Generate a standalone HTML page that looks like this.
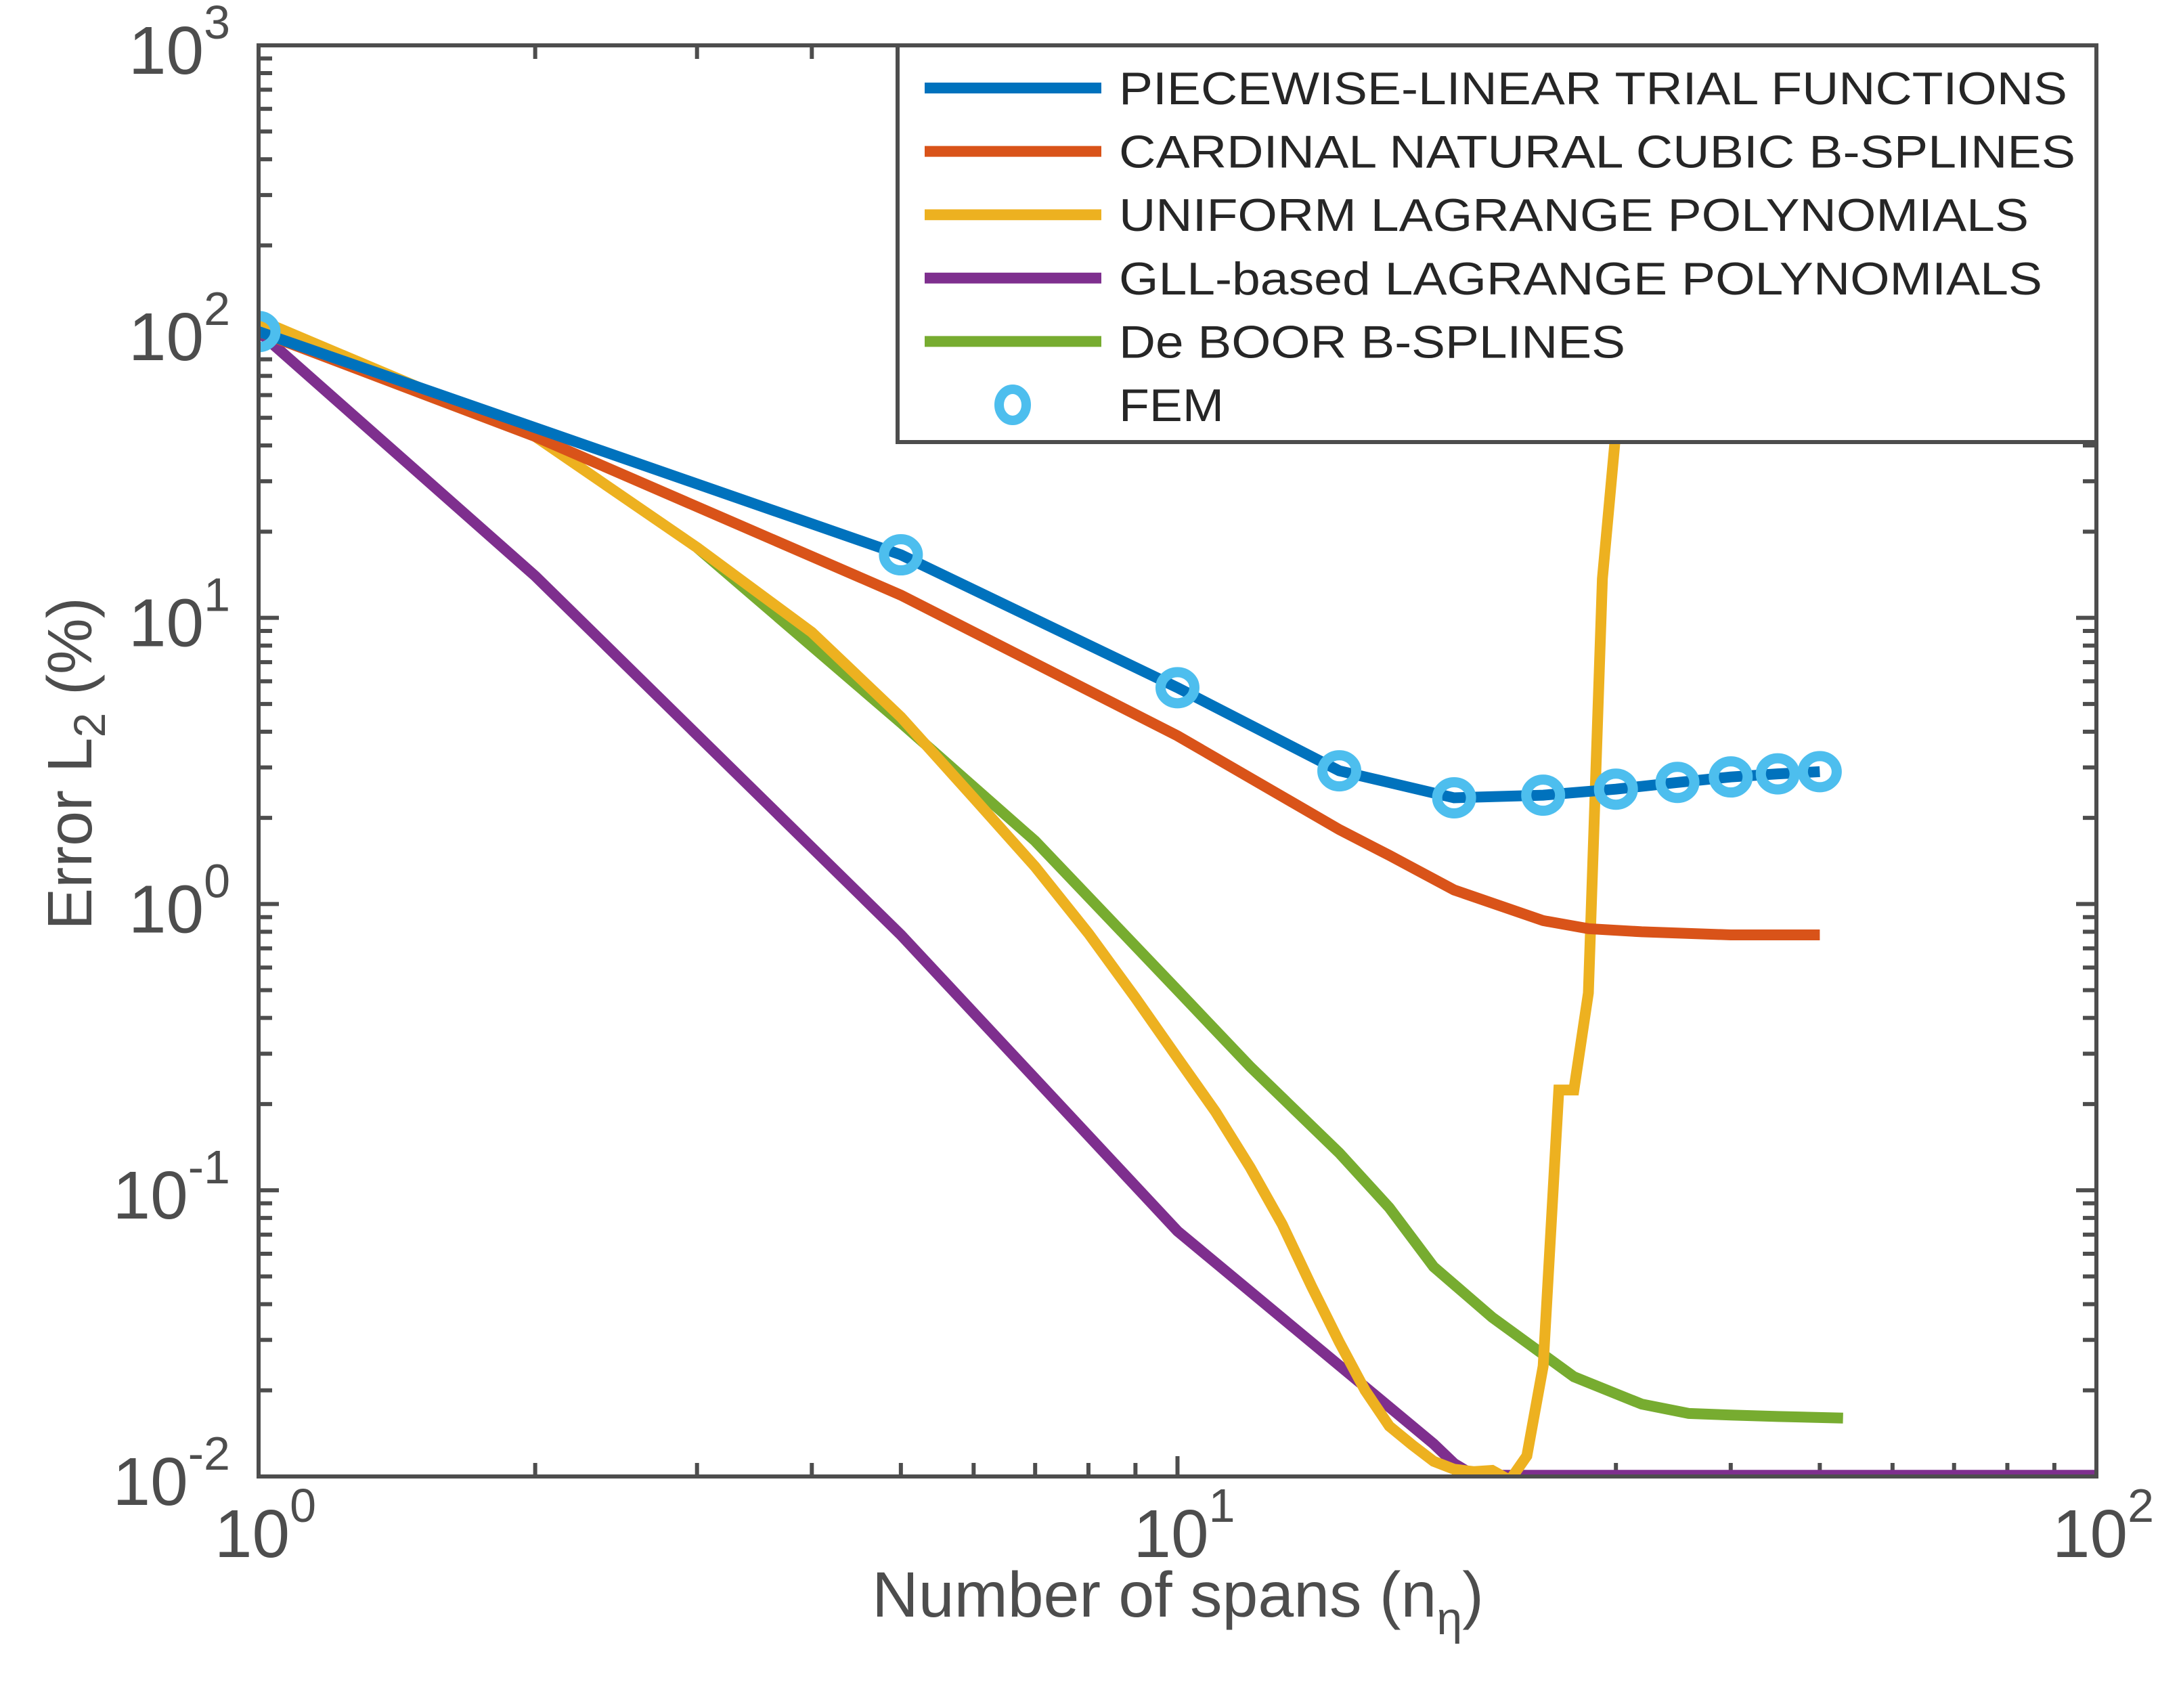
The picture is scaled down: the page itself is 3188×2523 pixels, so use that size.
<!DOCTYPE html>
<html><head><meta charset="utf-8"><style>
html,body{margin:0;padding:0;background:#fff}
svg{display:block;font-family:"Liberation Sans",Arial,sans-serif}
</style></head><body>
<svg id="chart" width="3188" height="2523" viewBox="0 0 3188 2523" xmlns="http://www.w3.org/2000/svg">
<rect width="3188" height="2523" fill="#fff"/>
<defs><clipPath id="plotclip"><rect x="382" y="67" width="2715" height="2114"/></clipPath></defs>
<g id="grid-ticks"></g>
<g id="series" clip-path="url(#plotclip)"></g>
<rect x="382" y="67" width="2715" height="2114" fill="none" stroke="#4d4d4d" stroke-width="6"/>
<g id="labels" fill="#4d4d4d"></g>
<text x="1740" y="2388" text-anchor="middle" font-size="95" fill="#4d4d4d">Number of spans (n<tspan font-size="68" dy="26">η</tspan><tspan dy="-26">)</tspan></text>
<text transform="translate(135,1128) rotate(-90)" text-anchor="middle" font-size="93" fill="#4d4d4d">Error L<tspan font-size="66" dy="20">2</tspan><tspan dy="-20"> (%)</tspan></text>
<g id="legend"></g>
</svg>
<script>
const NS='http://www.w3.org/2000/svg';
// data arrays
const nLinear=[1,5,10,15,20,25,30,35,40,45,50];
const vLinear=[100,16.6,5.7,2.92,2.35,2.4,2.52,2.66,2.78,2.85,2.9];
const nFem=[1,5,10,15,20,25,30,35,40,45,50];
const vFem=[100,16.6,5.7,2.92,2.35,2.4,2.52,2.66,2.78,2.85,2.9];
const nCardinal=[1,2,5,10,15,17,20,25,28,32,40,50];
const vCardinal=[100,43,12,3.87,1.82,1.48,1.12,0.875,0.82,0.80,0.78,0.78];
const nUniform=[1,2,3,4,5,6,7,8,9,10,11,12,13,14,15,16,17,18,19,20,21,22,23,24,25,26,27,28,29,30,31];
const vUniform=[110,43,17.6,8.9,4.5,2.35,1.35,0.79,0.47,0.29,0.188,0.12,0.076,0.046,0.0295,0.02,0.015,0.0129,0.0113,0.0106,0.0104,0.0105,0.0097,0.0118,0.0243,0.224,0.224,0.489,13.7,45,500];
const nGLL=[1,2,5,10,19,20,21,30,50,100];
const vGLL=[100,14,0.78,0.072,0.013,0.0111,0.0101,0.0101,0.0101,0.0101];
const nDeBoor=[3,5,7,10,12,15,17,19,22,27,32,36,40,45,53];
const vDeBoor=[17.6,4.3,1.66,0.5,0.27,0.135,0.087,0.054,0.036,0.0223,0.0179,0.0166,0.0164,0.0162,0.016];
const xTickExp=[0,1,2];
const yTickExp=[3,2,1,0,-1,-2];
const legendLabels=['PIECEWISE-LINEAR TRIAL FUNCTIONS','CARDINAL NATURAL CUBIC B-SPLINES','UNIFORM LAGRANGE POLYNOMIALS','GLL-based LAGRANGE POLYNOMIALS','De BOOR B-SPLINES','FEM'];

const L=382,R=3097,T=67,B=2181;
const xMin=0,xMax=2,yMin=-2,yMax=3;
function xs(n){return L+(Math.log10(n)-xMin)/(xMax-xMin)*(R-L);}
function ys(v){return B-(Math.log10(v)-yMin)/(yMax-yMin)*(B-T);}
function mk(tag,attrs,parent){const e=document.createElementNS(NS,tag);for(const k in attrs)e.setAttribute(k,attrs[k]);parent.appendChild(e);return e;}

// ticks
const tg=document.getElementById('grid-ticks');
for(let d=xMin;d<xMax;d++){for(let m=1;m<=9;m++){const x=xs(m*Math.pow(10,d));const len=m===1?30:20;
  const t1=mk('line',{x1:x,x2:x,y1:B,y2:B-len,stroke:'#4d4d4d','stroke-width':6},tg);
  
  
  const t2=mk('line',{x1:x,x2:x,y1:T,y2:T+len,stroke:'#4d4d4d','stroke-width':6},tg);
  
  }}
for(let d=yMin;d<yMax;d++){for(let m=1;m<=9;m++){const y=ys(m*Math.pow(10,d));const len=m===1?30:20;
  const t1=mk('line',{x1:L,x2:L+len,y1:y,y2:y,stroke:'#4d4d4d','stroke-width':6},tg);
  
  
  const t2=mk('line',{x1:R,x2:R-len,y1:y,y2:y,stroke:'#4d4d4d','stroke-width':6},tg);
  
  }}

// tick labels
const lg=document.getElementById('labels');
xTickExp.forEach(e=>{const t=mk('text',{x:xs(Math.pow(10,e))+10,y:2300,'text-anchor':'middle','font-size':100},lg);
  
  
  t.textContent='10';const s=mk('tspan',{'font-size':70,dy:-52},t);s.textContent=String(e);});
yTickExp.forEach(e=>{const t=mk('text',{x:340,y:ys(Math.pow(10,e))+42,'text-anchor':'end','font-size':100},lg);
  
  
  t.textContent='10';const s=mk('tspan',{'font-size':70,dy:-52},t);s.textContent=String(e);});

// series
const sg=document.getElementById('series');
function line(ns,vs,color,name){const d=ns.map((n,i)=>(i?'L':'M')+xs(n).toFixed(1)+','+ys(vs[i]).toFixed(1)).join(' ');
  const p=mk('path',{d:d,fill:'none',stroke:color,'stroke-width':16,'stroke-linejoin':'miter'},sg);
  
  }
line(nGLL,vGLL,'#7E2F8E','gll-lagrange-line');
line(nDeBoor,vDeBoor,'#77AC30','de-boor-line');
line(nUniform,vUniform,'#EDB120','uniform-lagrange-line');
line(nCardinal,vCardinal,'#D95319','cardinal-bspline-line');
line(nLinear,vLinear,'#0072BD','piecewise-linear-line');
nFem.forEach((n,i)=>{const c=mk('ellipse',{cx:xs(n),cy:ys(vFem[i]),rx:25,ry:23,fill:'none',stroke:'#4DBEEE','stroke-width':15},sg);
  
  });

// legend
const gl=document.getElementById('legend');
const lb=mk('rect',{x:1326,y:67,width:1771,height:586,fill:'#fff',stroke:'#4d4d4d','stroke-width':6},gl);


const colors=['#0072BD','#D95319','#EDB120','#7E2F8E','#77AC30','#4DBEEE'];
const widths=[1401,1413,1344,1364,748,155];
legendLabels.forEach((lab,i)=>{const y=130+i*93.6;
  if(i<5){const l=mk('line',{x1:1366,x2:1627,y1:y,y2:y,stroke:colors[i],'stroke-width':16},gl);
    
    }
  else{const c=mk('ellipse',{cx:1496,cy:y,rx:20,ry:23,fill:'none',stroke:colors[i],'stroke-width':14},gl);
    
    }
  const t=mk('text',{x:1653,y:y+24,'font-size':68,fill:'#262626',textLength:widths[i],lengthAdjust:'spacingAndGlyphs'},gl);
  
  
  t.textContent=lab;});
</script>
</body></html>
